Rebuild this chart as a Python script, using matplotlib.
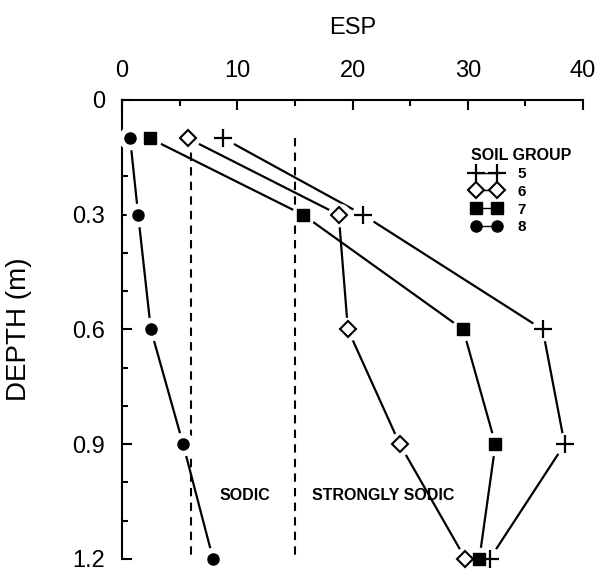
import matplotlib
matplotlib.use("Agg")
import matplotlib.pyplot as plt
from matplotlib.ticker import MultipleLocator

# ESP profiles by soil group, sampled at fixed depths
depth = [0.1, 0.3, 0.6, 0.9, 1.2]
esp_g5 = [8.8, 20.9, 36.5, 38.4, 31.9]
esp_g6 = [5.7, 18.8, 19.6, 24.1, 29.8]
esp_g7 = [2.4, 15.7, 29.6, 32.4, 31.0]
esp_g8 = [0.7, 1.4, 2.5, 5.3, 7.9]
groups = ["5", "6", "7", "8"]

sodic_limit = 6
strong_limit = 15

plt.rcParams.update({
    "font.family": ["Liberation Sans", "DejaVu Sans"],
    "axes.linewidth": 1.5,
})

fig = plt.figure(figsize=(6.05, 5.77), dpi=100)
ax = fig.add_axes([0.2017, 0.0312, 0.762, 0.7955])

series = [
    (esp_g5, dict(marker="+", markersize=13, markeredgewidth=1.6,
                  color="black")),
    (esp_g6, dict(marker="D", markersize=8, markerfacecolor="white",
                  markeredgewidth=1.5, color="black")),
    (esp_g7, dict(marker="s", markersize=9, color="black")),
    (esp_g8, dict(marker="o", markersize=8, color="black")),
]

for (vals, style), name in zip(series, groups):
    ax.plot(vals, depth, lw=1.6, color="black", zorder=2, clip_on=False)
    # white halo so the connecting lines stop short of each symbol
    ax.plot(vals, depth, ls="none", marker="o", markersize=16,
            markerfacecolor="white", markeredgecolor="white", zorder=3,
            clip_on=False)
    ax.plot(vals, depth, ls="none", zorder=4, clip_on=False, **style)
    ax.plot([], [], lw=1.0, label=name, **style)

for lim in (sodic_limit, strong_limit):
    ax.plot([lim, lim], [0.1, 1.19], ls=(0, (4, 3)), color="black",
            lw=1.5, zorder=1)

ax.text(10.7, 1.035, "SODIC", ha="center", va="center",
        fontsize=11.5, fontweight="bold")
ax.text(22.7, 1.035, "STRONGLY SODIC", ha="center", va="center",
        fontsize=11.5, fontweight="bold")

ax.set_xlim(0, 40)
ax.set_ylim(1.2, 0)
ax.xaxis.set_major_locator(MultipleLocator(10))
ax.xaxis.set_minor_locator(MultipleLocator(5))
ax.yaxis.set_major_locator(MultipleLocator(0.3))
ax.yaxis.set_minor_locator(MultipleLocator(0.1))
ax.yaxis.set_major_formatter(plt.FuncFormatter(
    lambda v, _: "0" if v == 0 else f"{v:.1f}"))

ax.xaxis.tick_top()
ax.xaxis.set_label_position("top")
ax.spines["right"].set_visible(False)
ax.spines["bottom"].set_visible(False)

ax.tick_params(which="both", direction="in", width=1.5, labelsize=17)
ax.tick_params(which="major", length=7)
ax.tick_params(which="minor", length=4)
ax.tick_params(axis="x", which="major", pad=13)
ax.tick_params(axis="y", which="major", pad=12)

ax.set_xlabel("ESP", fontsize=17, labelpad=19)
ax.set_ylabel("DEPTH (m)", fontsize=20)
ax.yaxis.set_label_coords(-0.195, 0.5)

leg = ax.legend(title="SOIL GROUP", numpoints=2, frameon=False,
                loc="upper left", bbox_to_anchor=(0.728, 0.925),
                alignment="left",
                handlelength=2.0, handletextpad=1.0, labelspacing=0.25,
                prop={"size": 11, "weight": "bold"},
                title_fontproperties={"size": 11.5, "weight": "bold"})

fig.savefig("out.png", dpi=100)
